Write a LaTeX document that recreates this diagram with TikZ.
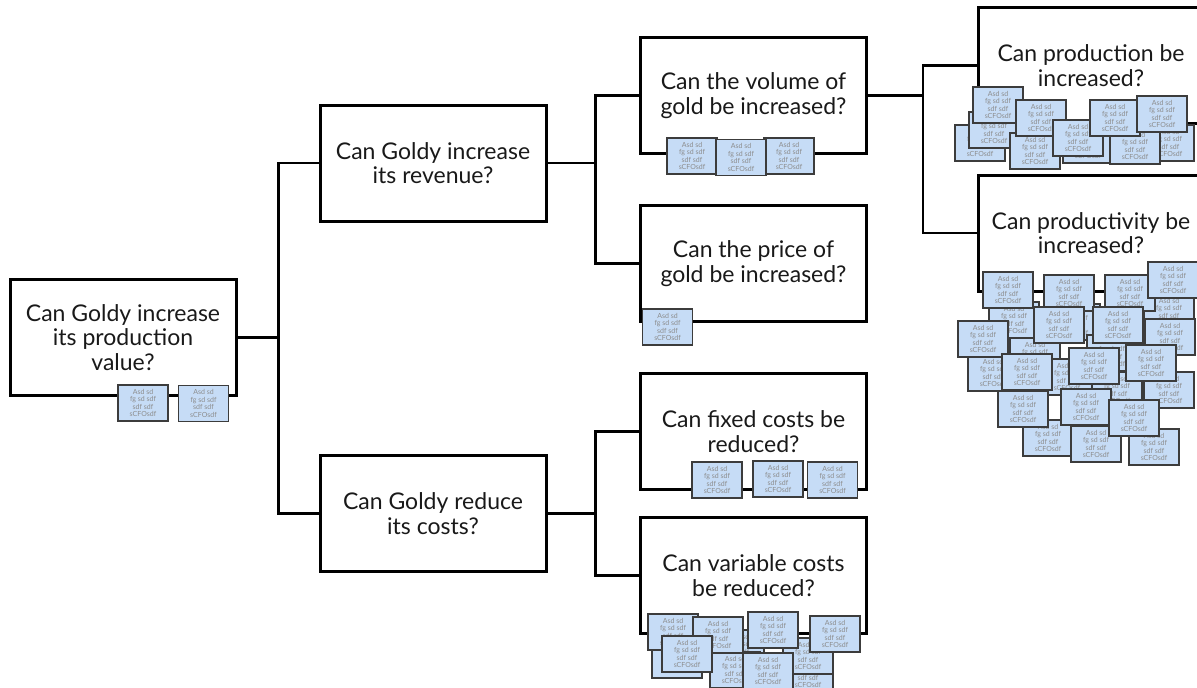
\documentclass[tikz,border=0pt]{standalone}
\usepackage{fontspec}
\setmainfont{Lato}
\usepackage{tikz}
\definecolor{noteBlue}{HTML}{C6DCF6}
\definecolor{noteEdge}{HTML}{3C3C3C}
\definecolor{noteInk}{HTML}{8C8C8C}
\newcommand{\stickytext}{Asd sd\\fg sd sdf\\sdf sdf\\sCFOsdf}

\begin{document}
\begin{tikzpicture}[x=1pt, y=-1pt,
  question/.style={draw, line width=3pt, minimum width=226, minimum height=116, inner sep=0pt, align=center, text=black!90, font=\fontsize{23}{24.5}\selectfont},
  sticky/.style={draw=noteEdge, line width=1.3pt, fill=noteBlue, text=noteInk, minimum width=50, minimum height=36, inner sep=0pt, align=center, font=\fontsize{7}{7.4}\selectfont},
  link/.style={line width=2.3pt}]
\clip (0,0) rectangle (1197,688);

\node[question] (root) at (123,337.5) {Can Goldy increase\\its production\\value?};
\node[question] (revenue) at (433,163) {Can Goldy increase\\its revenue?};
\node[question] (costs) at (433,513.5) {Can Goldy reduce\\its costs?};
\node[question] (volume) at (753.5,95.5) {Can the volume of\\gold be increased?};
\node[question] (price) at (753.5,263.5) {Can the price of\\gold be increased?};
\node[question] (fixed) at (753.5,431.5) {Can fixed costs be\\reduced?};
\node[question] (variable) at (753.5,575.5) {Can variable costs\\be reduced?};
\node[question] (production) at (1091,65.5) {Can production be\\increased?};
\node[question] (productivity) at (1091,233) {Can productivity be\\increased?};

\draw[link] (root.east) -- ++(41,0) coordinate (forkA) |- (revenue.west);
\draw[link] (forkA) |- (costs.west);
\draw[link] (revenue.east) -- ++(48,0) coordinate (forkB) |- (volume.west);
\draw[link] (forkB) |- (price.west);
\draw[link] (costs.east) -- ++(48,0) coordinate (forkC) |- (fixed.west);
\draw[link] (forkC) |- (variable.west);
\draw[link] (volume.east) -- ++(55,0) coordinate (forkD) |- (production.west);
\draw[link] (forkD) |- (productivity.west);

\foreach \cx/\cy [count=\k] in {143/403, 203.5/403.5}
  \node[sticky] (rootnote\k) at (\cx,\cy) {\stickytext};
\foreach \cx/\cy [count=\k] in {692/156, 789/156, 741/157.5}
  \node[sticky] (volnote\k) at (\cx,\cy) {\stickytext};
\node[sticky] (pricenote1) at (667.5,327) {\stickytext};
\foreach \cx/\cy [count=\k] in {717/480, 778/479, 832.5/480}
  \node[sticky] (fixnote\k) at (\cx,\cy) {\stickytext};
\foreach \cx/\cy [count=\k] in {677/660, 739/648, 735/670, 808/674, 673/632, 718/635, 808/656, 773/630, 768/671, 835/634, 687/654}
  \node[sticky] (varnote\k) at (\cx,\cy) {\stickytext};
\foreach \cx/\cy [count=\k] in {980/143, 994/130, 1035/151, 1088/145, 1169/143, 1135/146, 998/105, 1041/118, 1078/138, 1115/118, 1162/114}
  \node[sticky] (prodnote\k) at (\cx,\cy) {\stickytext};
\foreach \cx/\cy [count=\k] in {1014/320, 1075/322, 1169/312, 1035/356, 1112/353, 993/373, 1067/377, 1117/390, 1169/390, 1048/438, 1096/444, 1154/447, 1086/407, 1134/418, 1008/290, 1069/293, 1130/293, 1173/280, 1059/325, 1118/325, 1170/337, 983/339, 1027/372, 1094/366, 1151/363, 1023/409}
  \node[sticky] (ratenote\k) at (\cx,\cy) {\stickytext};
\end{tikzpicture}
\end{document}
